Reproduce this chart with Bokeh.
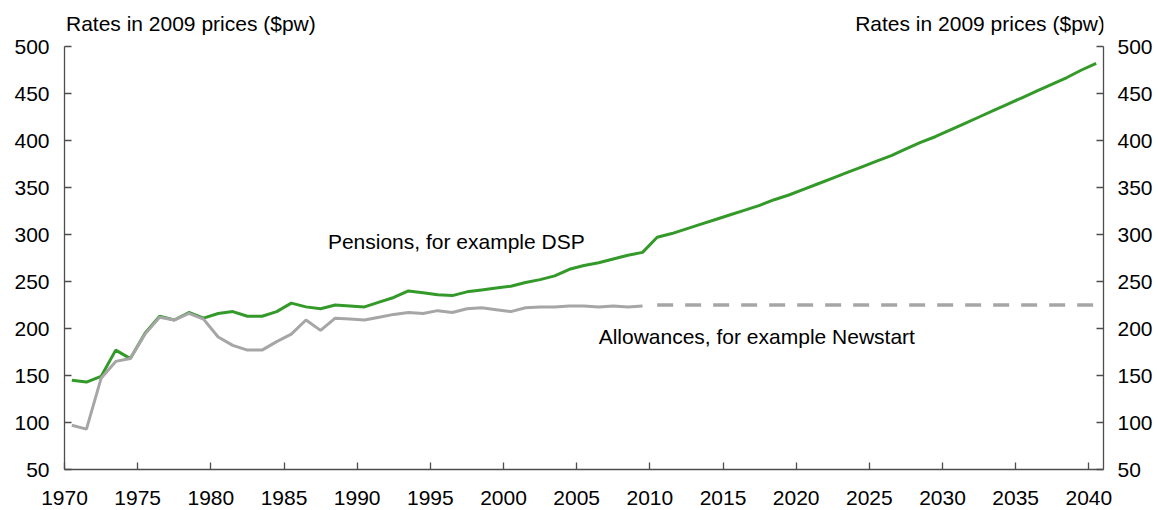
from bokeh.plotting import figure
from bokeh.models import LinearAxis, FixedTicker, Range1d, Label
from bokeh.embed import file_html
from bokeh.resources import INLINE

# ---- data -------------------------------------------------------------
pension_years = list(range(1970, 2041))
pension_rate = [145, 143, 149, 177, 168, 195, 213, 209, 217, 211,
                216, 218, 213, 213, 218, 227, 223, 221, 225, 224,
                223, 228, 233, 240, 238, 236, 235, 239, 241, 243,
                245, 249, 252, 256, 263, 267, 270, 274, 278, 281,
                297, 301, 306, 311, 316, 321, 326, 331, 337, 342,
                348, 354, 360, 366, 372, 378, 384, 391, 398, 404,
                411, 418, 425, 432, 439, 446, 453, 460, 467, 475,
                482]

allow_years = list(range(1970, 2010))
allow_rate = [97, 93, 147, 165, 168, 194, 212, 209, 216, 210,
              191, 182, 177, 177, 186, 194, 209, 198, 211, 210,
              209, 212, 215, 217, 216, 219, 217, 221, 222, 220,
              218, 222, 223, 223, 224, 224, 223, 224, 223, 224]

proj_years = [2010, 2040]
proj_rate = [225, 225]

x_ticks = list(range(1970, 2041, 5))
y_ticks = list(range(50, 501, 50))
axis_title = "Rates in 2009 prices ($pw)"
pension_label = "Pensions, for example DSP"
allow_label = "Allowances, for example Newstart"

# ---- styling ----------------------------------------------------------
FONT = "Liberation Sans"
FS = "21px"
GREEN = "#339a2a"
GREY = "#a6a6a6"
AXIS = "#4d4d4d"
MID = 0.5  # values plotted at mid-year

Y_LO, Y_HI = 50, 500
FRAME_H = 461
PX_PER_UNIT = 0.94
y_top = Y_LO + FRAME_H / PX_PER_UNIT  # headroom above the axis for titles

p = figure(frame_width=1039, frame_height=FRAME_H,
           output_backend="svg", toolbar_location=None,
           x_range=Range1d(1970, 2041), y_range=Range1d(Y_LO, y_top),
           min_border_left=64, min_border_right=55, min_border_top=8,
           min_border_bottom=41)
p.outline_line_color = None
p.xgrid.visible = False
p.ygrid.visible = False
p.background_fill_color = "white"
p.border_fill_color = "white"

p.line([y + MID for y in pension_years], pension_rate, line_color=GREEN, line_width=3)
p.line([y + MID for y in allow_years], allow_rate, line_color=GREY, line_width=3)
p.line([y + MID for y in proj_years], proj_rate, line_color=GREY, line_width=3.5,
       line_dash="16 12")


def style(ax, ticks):
    ax.ticker = FixedTicker(ticks=ticks)
    ax.axis_line_color = AXIS
    ax.axis_line_width = 1.3
    ax.major_tick_line_color = AXIS
    ax.major_tick_line_width = 1.3
    ax.major_tick_in = 7
    ax.major_tick_out = 0
    ax.minor_tick_line_color = None
    ax.major_label_text_font = FONT
    ax.major_label_text_font_size = FS
    ax.major_label_text_color = "black"


style(p.xaxis[0], x_ticks)
p.xaxis[0].major_label_standoff = 21
style(p.yaxis[0], y_ticks)
p.yaxis[0].major_label_standoff = 15
p.yaxis[0].bounds = (Y_LO, Y_HI)

right = LinearAxis(bounds=(Y_LO, Y_HI))
style(right, y_ticks)
right.major_label_standoff = 14
p.add_layout(right, "right")

for txt, x, y, align in [(axis_title, 1970.1, 524, "left"),
                         (axis_title, 2041.1, 524, "right"),
                         (pension_label, 1988.0, 293, "left"),
                         (allow_label, 2006.5, 191, "left")]:
    p.add_layout(Label(x=x, y=y, text=txt, text_align=align,
                       text_baseline="alphabetic", text_font=FONT,
                       text_font_size=FS, text_color="black"))

open("out.html", "w").write(file_html(p, INLINE))
